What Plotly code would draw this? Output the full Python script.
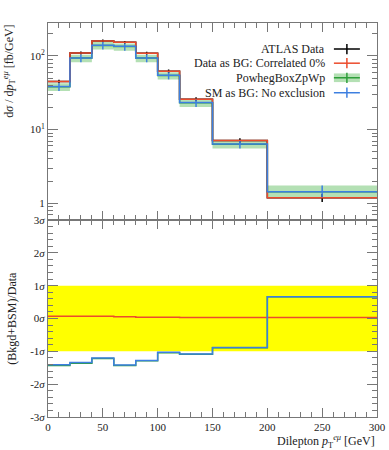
import plotly.graph_objects as go

# ---- data ----
bin_edges = [0, 20, 40, 60, 80, 100, 120, 150, 200, 300]
atlas_data = [45, 110, 160, 153, 109, 62, 25.9, 7.15, 1.19]
atlas_err = [2.5, 5, 7, 7, 5, 3.5, 1.6, 0.5, 0.15]
data_as_bg = [45, 110, 160, 153, 109, 62, 25.9, 7.15, 1.19]
powheg = [38.3, 93.5, 139, 134, 93.5, 54.3, 23.1, 6.33, 1.44]
powheg_hi = [42.5, 104, 154, 148, 104, 60, 25.6, 7.0, 1.75]
powheg_lo = [33.5, 82, 122, 118, 82, 48, 20.3, 5.55, 1.21]
sm_as_bg = [38.5, 94, 140, 135, 94, 54.7, 23.3, 6.37, 1.44]

ratio_data_as_bg = [0.07, 0.07, 0.07, 0.05, 0.04, 0.04, 0.03, 0.03, 0.03]
ratio_powheg = [-1.43, -1.36, -1.22, -1.43, -1.29, -1.04, -1.09, -0.89, 0.66]
ratio_sm = [-1.41, -1.34, -1.20, -1.42, -1.28, -1.03, -1.08, -0.88, 0.66]
sigma_band = [-1, 1]

RED = "#ec4b2c"
BLUE = "#3d7fe0"
GREEN = "#2e9e3a"
BAND = "#b4e0b4"
FONT = "Liberation Serif"

centers = [(a + b) / 2 for a, b in zip(bin_edges[:-1], bin_edges[1:])]


def step(vals):
    return list(vals) + [vals[-1]]


fig = go.Figure()

# ---- top panel ----
fig.add_trace(go.Scatter(x=bin_edges, y=step(powheg_hi), mode="lines", line=dict(shape="hv", width=0),
                         hoverinfo="skip", showlegend=False, xaxis="x", yaxis="y"))
fig.add_trace(go.Scatter(x=bin_edges, y=step(powheg_lo), mode="lines", line=dict(shape="hv", width=0),
                         fill="tonexty", fillcolor=BAND, hoverinfo="skip", showlegend=False,
                         xaxis="x", yaxis="y"))
fig.add_trace(go.Scatter(x=bin_edges, y=step(powheg), mode="lines", line=dict(shape="hv", width=1.5, color=GREEN),
                         showlegend=False, xaxis="x", yaxis="y"))
fig.add_trace(go.Scatter(x=bin_edges, y=step(atlas_data), mode="lines", line=dict(shape="hv", width=1.5, color="black"),
                         showlegend=False, xaxis="x", yaxis="y"))
fig.add_trace(go.Scatter(x=centers, y=atlas_data, mode="markers", marker=dict(size=1, color="black"),
                         error_y=dict(type="data", array=atlas_err, color="black", width=0, thickness=1.5),
                         showlegend=False, xaxis="x", yaxis="y"))
fig.add_trace(go.Scatter(x=bin_edges, y=step(data_as_bg), mode="lines", line=dict(shape="hv", width=1.5, color=RED),
                         showlegend=False, xaxis="x", yaxis="y"))
fig.add_trace(go.Scatter(x=bin_edges, y=step(sm_as_bg), mode="lines", line=dict(shape="hv", width=1.5, color=BLUE),
                         showlegend=False, xaxis="x", yaxis="y"))
fig.add_trace(go.Scatter(x=centers, y=sm_as_bg, mode="markers", marker=dict(size=1, color=BLUE),
                         error_y=dict(type="data", symmetric=False,
                                      array=[h - v for h, v in zip(powheg_hi, sm_as_bg)],
                                      arrayminus=[v - l for l, v in zip(powheg_lo, sm_as_bg)],
                                      color=BLUE, width=0, thickness=1.5),
                         showlegend=False, xaxis="x", yaxis="y"))

# ---- bottom panel ----
fig.add_trace(go.Scatter(x=[bin_edges[0], bin_edges[-1]], y=[sigma_band[1]] * 2, mode="lines",
                         line=dict(width=0), hoverinfo="skip", showlegend=False, xaxis="x2", yaxis="y2"))
fig.add_trace(go.Scatter(x=[bin_edges[0], bin_edges[-1]], y=[sigma_band[0]] * 2, mode="lines",
                         line=dict(width=0), fill="tonexty", fillcolor="#ffff00",
                         hoverinfo="skip", showlegend=False, xaxis="x2", yaxis="y2"))
fig.add_trace(go.Scatter(x=bin_edges, y=step(ratio_powheg), mode="lines", line=dict(shape="hv", width=1.5, color=GREEN),
                         showlegend=False, xaxis="x2", yaxis="y2"))
fig.add_trace(go.Scatter(x=bin_edges, y=step(ratio_data_as_bg), mode="lines", line=dict(shape="hv", width=1.5, color=RED),
                         showlegend=False, xaxis="x2", yaxis="y2"))
fig.add_trace(go.Scatter(x=bin_edges, y=step(ratio_sm), mode="lines", line=dict(shape="hv", width=1.5, color=BLUE),
                         showlegend=False, xaxis="x2", yaxis="y2"))

AX = "#777777"
tickfont = dict(family=FONT, size=11, color="#222")

common_x = dict(range=[0, 300], tickvals=[0, 50, 100, 150, 200, 250, 300], ticks="inside", ticklen=9,
                tickcolor=AX, showline=True, linecolor=AX, linewidth=1, mirror="allticks", showgrid=False,
                zeroline=False, minor=dict(dtick=10, ticks="inside", ticklen=5, tickcolor=AX),
                tickfont=tickfont, automargin=False)

fig.update_layout(
    width=389, height=450, autosize=False,
    margin=dict(l=48, r=12, t=23, b=33, autoexpand=False),
    paper_bgcolor="white", plot_bgcolor="white",
    showlegend=False,
    font=dict(family=FONT, color="#222"),
    xaxis=dict(domain=[0, 1], anchor="y", showticklabels=False, **common_x),
    xaxis2=dict(domain=[0, 1], anchor="y2", showticklabels=True,
                ticktext=["0", "50", "100", "150", "200", "250", "300"], **common_x),
    yaxis=dict(domain=[0.5, 1], anchor="x", type="log", range=[-0.226, 2.447],
               tickvals=[1, 10, 100], ticktext=["1", "10<sup>1</sup>", "10<sup>2</sup>"],
               ticks="inside", ticklen=10, tickcolor=AX, showline=True, linecolor=AX, mirror="allticks",
               showgrid=False, zeroline=False, tickfont=tickfont, automargin=False,
               minor=dict(tickmode="array",
                          tickvals=[0.7, 0.8, 0.9, 2, 3, 4, 5, 6, 7, 8, 9, 20, 30, 40, 50, 60, 70, 80, 90, 200],
                          ticks="inside", ticklen=5, tickcolor=AX)),
    yaxis2=dict(domain=[0, 0.5], anchor="x2", range=[-3, 3],
                tickvals=[-3, -2, -1, 0, 1, 2, 3],
                ticktext=["-3<i>σ</i>", "-2<i>σ</i>", "-1<i>σ</i>", "0<i>σ</i>", "1<i>σ</i>", "2<i>σ</i>", "3<i>σ</i>"],
                ticks="inside", ticklen=10, tickcolor=AX, showline=True, linecolor=AX, mirror="allticks",
                showgrid=False, zeroline=False, tickfont=tickfont, automargin=False,
                minor=dict(dtick=0.2, ticks="inside", ticklen=5, tickcolor=AX)),
)

# ---- axis titles ----
fig.add_annotation(text="d<i>σ</i> / d<i>p</i><sub>T</sub><sup><i>eμ</i></sup> [fb/GeV]", textangle=-90,
                   xref="paper", yref="paper", x=-0.118, y=1.0, xanchor="center", yanchor="top",
                   showarrow=False, font=dict(family=FONT, size=12, color="#222"))
fig.add_annotation(text="(Bkgd+BSM)/Data", textangle=-90,
                   xref="paper", yref="paper", x=-0.112, y=0.25, xanchor="center", yanchor="middle",
                   showarrow=False, font=dict(family=FONT, size=12, color="#222"))
fig.add_annotation(text="Dilepton <i>p</i><sub>T</sub><sup><i>eμ</i></sup> [GeV]",
                   xref="paper", yref="paper", x=1.0, y=-0.063, xanchor="right", yanchor="middle",
                   showarrow=False, font=dict(family=FONT, size=12, color="#222"))

# ---- legend (symbols on the right, as in the reference) ----
legend_labels = ["ATLAS Data", "Data as BG: Correlated 0%", "PowhegBoxZpWp", "SM as BG: No exclusion"]
legend_colors = ["black", RED, GREEN, BLUE]
legend_y = [0.934, 0.898, 0.861, 0.823]
x0, x1 = 0.869, 0.948
xc = (x0 + x1) / 2
for lab, col, ly in zip(legend_labels, legend_colors, legend_y):
    fig.add_annotation(text=lab, xref="paper", yref="paper", x=0.848, y=ly, xanchor="right", yanchor="middle",
                       showarrow=False, font=dict(family=FONT, size=12, color="#222"))
    if col == GREEN:
        fig.add_shape(type="rect", xref="paper", yref="paper", x0=x0, x1=x1, y0=ly - 0.011, y1=ly + 0.011,
                      fillcolor=BAND, line=dict(width=0))
    fig.add_shape(type="line", xref="paper", yref="paper", x0=x0, x1=x1, y0=ly, y1=ly,
                  line=dict(color=col, width=1.5))
    fig.add_shape(type="line", xref="paper", yref="paper", x0=xc, x1=xc, y0=ly - 0.013, y1=ly + 0.013,
                  line=dict(color=col, width=1.5))

fig.write_html("out.html", config={"displayModeBar": False},
               post_script="document.body.style.margin='0';document.body.style.overflow='hidden';")
